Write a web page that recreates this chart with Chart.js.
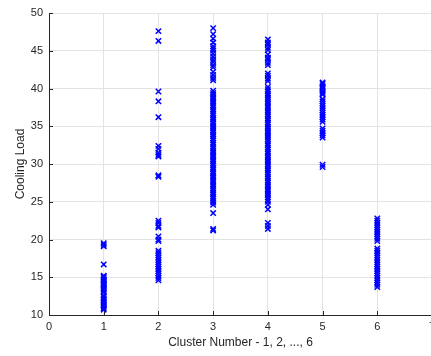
<!DOCTYPE html>
<html>
<head>
<meta charset="utf-8">
<script src="https://cdn.jsdelivr.net/npm/chart.js@4/dist/chart.umd.min.js"></script>
<style>
  html, body { margin: 0; padding: 0; background: #fff; overflow: hidden; }
  #wrap { width: 445px; height: 356px; position: relative; }
</style>
</head>
<body>
<div id="wrap"><canvas id="scatter"></canvas></div>
<script>
// cooling load of each building, grouped by the cluster it was assigned to
const xTicks = [0, 1, 2, 3, 4, 5, 6, 7];
const yTicks = [10, 15, 20, 25, 30, 35, 40, 45, 50];

const cluster1Loads = [10.7, 10.9, 11.1, 11.3, 11.4, 11.6, 11.8, 12.0, 12.2, 12.4, 12.6, 13.0, 13.2, 13.4,
  13.5, 13.7, 13.9, 14.1, 14.2, 14.4, 14.6, 14.7, 14.9, 15.1, 15.2, 16.7, 19.1, 19.3, 19.5];

const cluster2Loads = [14.6, 14.9, 15.2, 15.5, 15.8, 16.1, 16.4, 16.7, 17.0, 17.3, 17.6, 17.9, 18.2, 18.5,
  19.8, 20.0, 20.4, 21.6, 21.8, 22.2, 22.5, 28.3, 28.5, 31.0, 31.2, 31.5, 32.0, 32.4, 36.2, 38.3, 39.6,
  46.3, 47.6];

const cluster3Loads = [21.2, 21.4, 23.5, 24.6, 24.9, 25.1, 25.4, 25.7, 26.0, 26.2, 26.5, 26.8, 27.1, 27.3,
  27.6, 27.9, 28.2, 28.4, 28.7, 29.0, 29.3, 29.5, 29.8, 30.1, 30.4, 30.6, 30.9, 31.2, 31.5, 31.7, 32.0,
  32.3, 32.6, 32.8, 33.1, 33.4, 33.7, 33.9, 34.2, 34.5, 34.8, 35.0, 35.3, 35.6, 35.9, 36.1, 36.4, 36.7,
  37.0, 37.2, 37.5, 37.8, 38.1, 38.3, 38.6, 38.9, 39.2, 39.4, 39.7, 41.1, 41.4, 41.8, 42.2, 42.8, 43.1,
  43.5, 43.8, 44.2, 44.6, 45.0, 45.3, 45.6, 46.1, 46.6, 47.2, 48.0];

const cluster4Loads = [21.4, 21.8, 22.2, 24.0, 24.6, 25.0, 25.3, 25.6, 25.9, 26.1, 26.4, 26.7, 27.0, 27.2,
  27.5, 27.8, 28.1, 28.3, 28.6, 28.9, 29.2, 29.4, 29.7, 30.0, 30.3, 30.5, 30.8, 31.1, 31.4, 31.6, 31.9,
  32.2, 32.5, 32.7, 33.0, 33.3, 33.6, 33.8, 34.1, 34.4, 34.7, 34.9, 35.2, 35.5, 35.8, 36.0, 36.3, 36.6,
  36.9, 37.1, 37.4, 37.7, 38.0, 38.2, 38.5, 38.8, 39.1, 39.3, 39.6, 39.9, 40.2, 41.0, 41.3, 41.7, 42.0,
  43.1, 43.4, 43.8, 44.1, 44.5, 45.1, 45.4, 45.8, 46.1, 46.5];

const cluster5Loads = [29.6, 29.9, 33.5, 33.8, 34.1, 34.4, 34.7, 35.6, 35.9, 36.2, 36.5, 36.8, 37.1, 37.4,
  37.7, 38.0, 38.3, 38.6, 39.2, 39.4, 39.6, 39.9, 40.1, 40.3, 40.6, 40.8];

const cluster6Loads = [13.7, 14.0, 14.3, 14.6, 14.9, 15.2, 15.5, 15.8, 16.1, 16.4, 16.7, 17.0, 17.3, 17.6,
  17.9, 18.2, 18.5, 18.8, 19.8, 20.1, 20.4, 20.7, 21.0, 21.3, 21.6, 21.9, 22.2, 22.5, 22.8];

const clusterLoads = [cluster1Loads, cluster2Loads, cluster3Loads, cluster4Loads, cluster5Loads, cluster6Loads];

const points = [];
clusterLoads.forEach((loads, i) => {
  loads.forEach(v => points.push({ x: i + 1, y: v }));
});

const AXIS_COLOR = '#262626';
const GRID_COLOR = '#e3e3e3';
const FONT = 'Liberation Sans, Arial, Helvetica, sans-serif';

// short tick marks pointing into the plot, like the default axes style
const innerTicks = {
  id: 'innerTicks',
  afterDatasetsDraw(chart) {
    const { ctx, chartArea, scales } = chart;
    ctx.save();
    ctx.strokeStyle = AXIS_COLOR;
    ctx.lineWidth = 1;
    ctx.beginPath();
    yTicks.forEach(t => {
      const y = Math.round(scales.y.getPixelForValue(t)) + 0.5;
      ctx.moveTo(chartArea.left, y);
      ctx.lineTo(chartArea.left + 4, y);
    });
    xTicks.forEach(t => {
      const x = Math.round(scales.x.getPixelForValue(t)) + 0.5;
      ctx.moveTo(x, chartArea.bottom);
      ctx.lineTo(x, chartArea.bottom - 4);
    });
    ctx.stroke();
    ctx.restore();
  }
};

new Chart(document.getElementById('scatter'), {
  type: 'scatter',
  data: {
    datasets: [{
      data: points,
      pointStyle: 'crossRot',
      pointRadius: 3.8,
      pointHoverRadius: 3.8,
      borderColor: '#0000ff',
      backgroundColor: '#0000ff',
      borderWidth: 1.5
    }]
  },
  options: {
    responsive: true,
    maintainAspectRatio: false,
    animation: false,
    layout: { padding: { top: 13, right: 13, bottom: 0, left: 0 } },
    plugins: { legend: { display: false }, tooltip: { enabled: false } },
    scales: {
      x: {
        type: 'linear',
        min: 0,
        max: 7,
        afterBuildTicks: s => { s.ticks = xTicks.map(v => ({ value: v })); },
        afterFit: s => { s.height = 41; },
        ticks: { color: AXIS_COLOR, font: { family: FONT, size: 11 }, padding: 5 },
        grid: { color: GRID_COLOR, drawTicks: false },
        border: { color: AXIS_COLOR, width: 1 },
        title: {
          display: true,
          text: 'Cluster Number - 1, 2, ..., 6',
          color: AXIS_COLOR,
          font: { family: FONT, size: 12 },
          padding: { top: 0, bottom: 6 }
        }
      },
      y: {
        min: 10,
        max: 50,
        afterBuildTicks: s => { s.ticks = yTicks.map(v => ({ value: v })); },
        afterFit: s => { s.width = 49; },
        ticks: { color: AXIS_COLOR, font: { family: FONT, size: 11 }, padding: 6 },
        grid: { color: GRID_COLOR, drawTicks: false },
        border: { color: AXIS_COLOR, width: 1 },
        title: {
          display: true,
          text: 'Cooling Load',
          color: AXIS_COLOR,
          font: { family: FONT, size: 12 },
          padding: { top: 13, bottom: 0 }
        }
      }
    }
  },
  plugins: [innerTicks]
});
</script>
</body>
</html>
